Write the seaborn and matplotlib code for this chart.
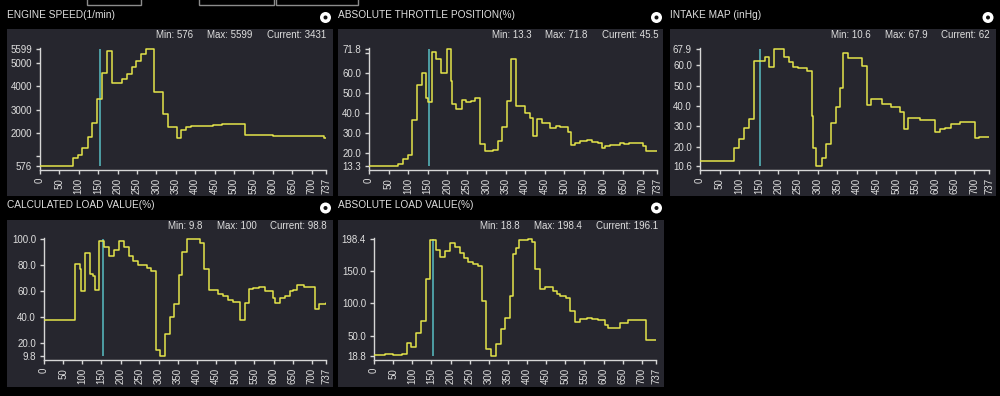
import numpy as np
import pandas as pd
import matplotlib
matplotlib.use("Agg")
import matplotlib.pyplot as plt
import seaborn as sns
from matplotlib.patches import Rectangle, Circle

sns.set_theme(style="dark")
plt.rcParams['font.family'] = ['Liberation Sans', 'DejaVu Sans']

# ---------------- data ----------------
x_ticks = [0, 50, 100, 150, 200, 250, 300, 350, 400, 450, 500, 550, 600, 650, 700, 737]
cursor_x = 154

speed_x = [0, 85, 98, 109, 123, 135, 147, 160, 173, 185, 212, 223, 236, 248, 260, 273, 293, 317, 329,
           354, 363, 375, 390, 420, 445, 470, 490, 527, 560, 600, 652, 733, 737]
speed_y = [576, 906, 1064, 1365, 1810, 2442, 3431, 4551, 5513, 4120, 4322, 4523, 4810, 5097, 5384, 5599,
           3747, 2829, 2255, 1767, 2126, 2255, 2284, 2310, 2330, 2360, 2390, 1925, 1910, 1882, 1853, 1796, 1796]
speed_ticks = [576, 1000, 2000, 3000, 4000, 5000, 5599]
speed_labels = ["576", "", "2000", "3000", "4000", "5000", "5599"]

throttle_x = [0, 74, 86, 99, 110, 122, 135, 147, 151, 161, 172, 185, 199, 209, 213, 223, 237, 248, 261,
              270, 285, 296, 318, 330, 341, 353, 363, 376, 399, 411, 420, 431, 442, 464, 478, 490, 509,
              518, 526, 541, 557, 571, 585, 597, 604, 617, 642, 652, 665, 701, 710, 737]
throttle_y = [13.3, 14.5, 16.6, 18.6, 36.2, 53.6, 59.7, 47.3, 45.5, 70.1, 66.8, 60.0, 71.8, 55.9, 44.3,
              42.0, 46.4, 45.1, 45.9, 47.1, 24.1, 20.6, 21.3, 25.7, 32.9, 45.9, 66.7, 43.5, 39.8, 37.3,
              28.2, 36.8, 34.8, 32.4, 33.5, 33.0, 30.2, 23.7, 24.9, 25.7, 26.1, 25.1, 24.9, 22.4, 23.2,
              23.9, 24.6, 24.3, 24.9, 23.2, 20.8, 20.8]
throttle_ticks = [13.3, 20, 30, 40, 50, 60, 70, 71.8]
throttle_labels = ["13.3", "20.0", "30.0", "40.0", "50.0", "60.0", "", "71.8"]

map_x = [0, 87, 100, 113, 125, 138, 161, 166, 177, 189, 215, 227, 238, 250, 272, 285, 289, 297, 310,
         321, 333, 346, 358, 365, 378, 412, 425, 436, 463, 488, 510, 521, 531, 561, 599, 612, 625, 641,
         663, 701, 712, 737]
map_y = [13.2, 19.5, 23.6, 29.3, 33.8, 62.0, 62.2, 63.8, 59.0, 67.9, 63.8, 61.4, 59.3, 58.5, 57.3, 35.0,
         19.5, 10.6, 14.3, 21.6, 31.7, 39.5, 48.7, 65.8, 63.7, 59.6, 40.6, 43.5, 41.1, 39.5, 36.9, 28.8,
         34.1, 33.0, 27.2, 28.8, 29.3, 31.2, 32.2, 24.1, 24.6, 24.6]
map_ticks = [10.6, 20, 30, 40, 50, 60, 67.9]
map_labels = ["10.6", "20.0", "30.0", "40.0", "50.0", "60.0", "67.9"]

calc_x = [0, 82, 93, 97, 108, 119, 127, 134, 145, 158, 169, 182, 195, 208, 221, 233, 245, 269, 280, 293,
          304, 317, 328, 340, 352, 361, 374, 407, 419, 430, 456, 469, 482, 495, 511, 526, 535, 547, 561,
          577, 598, 604, 617, 629, 642, 652, 661, 680, 709, 718, 737]
calc_y = [37.4, 80.8, 77.0, 59.6, 89.0, 73.2, 71.1, 60.9, 98.8, 93.6, 87.2, 91.6, 98.7, 93.6, 87.2, 83.1,
          79.6, 78.0, 75.7, 14.4, 9.8, 26.4, 39.7, 49.9, 71.9, 89.8, 100.0, 96.7, 77.0, 60.9, 57.8, 55.8,
          53.2, 51.2, 37.9, 50.7, 61.4, 62.2, 62.7, 59.6, 54.5, 50.7, 54.5, 55.8, 59.6, 60.6, 64.2, 63.2,
          46.3, 50.2, 50.7]
calc_ticks = [9.8, 20, 40, 60, 80, 100]
calc_labels = ["9.8", "20.0", "40.0", "60.0", "80.0", "100.0"]

abs_x = [0, 28, 50, 74, 86, 98, 111, 124, 137, 147, 161, 173, 185, 198, 211, 224, 236, 246, 259, 272,
         283, 294, 307, 318, 331, 342, 355, 364, 370, 378, 403, 412, 422, 433, 447, 467, 477, 487, 501,
         512, 525, 538, 556, 569, 585, 604, 612, 643, 663, 711, 720, 737]
abs_y = [20.8, 21.9, 20.8, 22.4, 39.3, 33.1, 54.6, 72.5, 137.5, 196.1, 182.0, 170.8, 180.0, 192.8, 186.1,
         177.4, 168.7, 163.1, 159.5, 157.0, 103.2, 29.0, 18.8, 36.7, 59.7, 77.6, 110.9, 174.9, 185.1,
         196.5, 198.4, 194.2, 151.8, 121.1, 124.7, 118.6, 113.5, 110.9, 107.3, 87.9, 71.0, 75.1, 77.6,
         75.1, 73.6, 66.4, 62.3, 70.0, 73.6, 42.8, 43.9, 43.9]
abs_ticks = [18.8, 50, 100, 150, 198.4]
abs_labels = ["18.8", "50.0", "100.0", "150.0", "198.4"]

titles = ["ENGINE SPEED(1/min)", "ABSOLUTE THROTTLE POSITION(%)", "INTAKE MAP (inHg)",
          "CALCULATED LOAD VALUE(%)", "ABSOLUTE LOAD VALUE(%)"]
stat_min = ["576", "13.3", "10.6", "9.8", "18.8"]
stat_max = ["5599", "71.8", "67.9", "100", "198.4"]
stat_cur = ["3431", "45.5", "62", "98.8", "196.1"]

# ---------------- style ----------------
W, H = 1000, 396
PANEL_BG = "#26262e"
LINE_C = "#e4e44a"
CURSOR_C = "#4e9ea4"
TEXT_C = "#dedede"
AXIS_C = "#d6d6d6"
FS = 7

fig = plt.figure(figsize=(W / 100, H / 100), dpi=100, facecolor="black")

bg = fig.add_axes([0, 0, 1, 1], zorder=-5)
bg.set_xlim(0, W)
bg.set_ylim(H, 0)
bg.axis("off")
bg.set_facecolor("black")

# top partial boxes
for (a, b) in [(87, 141), (199, 274), (276, 358)]:
    bg.add_patch(Rectangle((a, -3), b - a, 8, facecolor="black", edgecolor="#8c8c8c", lw=1))

layout = [
    dict(bgr=(7, 29, 333, 196), axr=(40, 48, 326, 170), tpos=(7, 15.5), ipos=(325.5, 17.5), sr=(326, 35)),
    dict(bgr=(338, 29, 663, 196), axr=(369, 48, 657, 170), tpos=(338, 15.5), ipos=(656.5, 17.5), sr=(658, 35)),
    dict(bgr=(670, 29, 996, 196), axr=(700, 48, 989, 170), tpos=(670, 15.5), ipos=(988, 17.5), sr=(990, 35)),
    dict(bgr=(7, 220, 333, 387), axr=(44, 238, 326, 360), tpos=(7, 205.5), ipos=(325.5, 208), sr=(327, 226)),
    dict(bgr=(338, 220, 664, 387), axr=(374, 238, 656, 360), tpos=(338, 205.5), ipos=(656.5, 208), sr=(658, 226)),
]
series = [
    (speed_x, speed_y, speed_ticks, speed_labels),
    (throttle_x, throttle_y, throttle_ticks, throttle_labels),
    (map_x, map_y, map_ticks, map_labels),
    (calc_x, calc_y, calc_ticks, calc_labels),
    (abs_x, abs_y, abs_ticks, abs_labels),
]

renderer = fig.canvas.get_renderer()

for i, (lay, (sx, sy, yt, yl)) in enumerate(zip(layout, series)):
    x0, y0, x1, y1 = lay["bgr"]
    bg.add_patch(Rectangle((x0, y0), x1 - x0, y1 - y0, facecolor=PANEL_BG, edgecolor="none"))
    bg.text(lay["tpos"][0], lay["tpos"][1], titles[i], color=TEXT_C, fontsize=FS + 0.3,
            ha="left", va="center")
    cx, cy = lay["ipos"]
    bg.add_patch(Circle((cx, cy), 5.5, facecolor="white", edgecolor="none"))
    bg.add_patch(Circle((cx, cy), 2.0, facecolor="#111111", edgecolor="none"))
    xr, ys = lay["sr"]
    for s in [f"Current: {stat_cur[i]}", f"Max: {stat_max[i]}", f"Min: {stat_min[i]}"]:
        t = bg.text(xr, ys, s, color=TEXT_C, fontsize=FS, ha="right", va="center")
        bb = t.get_window_extent(renderer=renderer)
        xr -= bb.width + 14

    ax0, ay0, ax1, ay1 = lay["axr"]
    ax = fig.add_axes([ax0 / W, 1 - ay1 / H, (ax1 - ax0) / W, (ay1 - ay0) / H])
    ax.set_facecolor("none")
    df = pd.DataFrame({"t": sx, "v": sy})
    sns.lineplot(data=df, x="t", y="v", ax=ax, color=LINE_C, linewidth=1.1,
                 drawstyle="steps-post", estimator=None, sort=False, zorder=3)
    ymin, ymax = min(sy), max(sy)
    rng_px = (ay1 - ay0) - 5
    u = (ymax - ymin) / rng_px
    ax.set_ylim(ymin - 4 * u, ymax + 1 * u)
    ax.set_xlim(0, 737)
    ax.vlines(cursor_x, ymin, ymax, color=CURSOR_C, linewidth=1.4, zorder=2)
    ax.set_xticks(x_ticks)
    ax.set_xticklabels([str(v) for v in x_ticks], rotation=90)
    ax.set_yticks(yt)
    ax.set_yticklabels(yl)
    ax.set_xlabel("")
    ax.set_ylabel("")
    ax.grid(False)
    for sp in ["top", "right"]:
        ax.spines[sp].set_visible(False)
    for sp in ["left", "bottom"]:
        ax.spines[sp].set_visible(True)
        ax.spines[sp].set_color(AXIS_C)
        ax.spines[sp].set_linewidth(1)
    ax.tick_params(axis="both", which="both", bottom=True, left=True, colors=AXIS_C,
                   labelcolor=TEXT_C, labelsize=FS, length=2.9, width=1, direction="out", pad=2.9)

fig.savefig("out.png", dpi=100, facecolor="black")
